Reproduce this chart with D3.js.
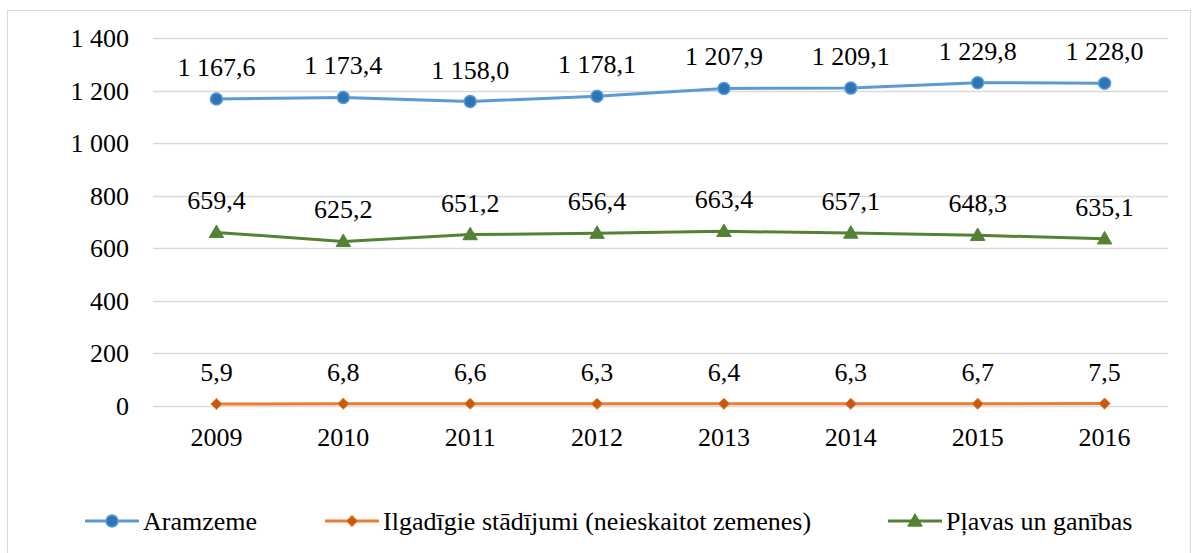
<!DOCTYPE html>
<html>
<head>
<meta charset="utf-8">
<script src="https://cdn.jsdelivr.net/npm/d3@7"></script>
</head>
<body style="margin:0;background:#fff;">
<script>
var years = ["2009","2010","2011","2012","2013","2014","2015","2016"];
var aramzeme = [1167.6,1173.4,1158.0,1178.1,1207.9,1209.1,1229.8,1228.0];
var ilgadigie = [5.9,6.8,6.6,6.3,6.4,6.3,6.7,7.5];
var plavas = [659.4,625.2,651.2,656.4,663.4,657.1,648.3,635.1];
var yTicks = [0,200,400,600,800,1000,1200,1400];

var series = [
  {name:"Aramzeme", values:aramzeme, line:"#5B9BD5", fill:"#2E75B6", marker:"circle"},
  {name:"Ilgadīgie stādījumi (neieskaitot zemenes)", values:ilgadigie, line:"#ED7D31", fill:"#C55A11", marker:"diamond"},
  {name:"Pļavas un ganības", values:plavas, line:"#548235", fill:"#548235", marker:"triangle"}
];

var fmt = function(v){
  var parts = v.toFixed(1).split(".");
  parts[0] = parts[0].replace(/\B(?=(\d{3})+(?!\d))/g, " ");
  return parts.join(",");
};
var fmtTick = function(v){ return String(v).replace(/\B(?=(\d{3})+(?!\d))/g, " "); };

var FONT = "Liberation Serif";
var FS = 26;

var svg = d3.select("body").append("svg")
  .attr("width",1193).attr("height",553)
  .attr("font-family",FONT)
  .attr("font-size",FS);

svg.append("rect")
  .attr("x",7.5).attr("y",10.5).attr("width",1183).attr("height",545)
  .attr("fill","#fff").attr("stroke","#d9d9d9");

var x = d3.scalePoint().domain(years).range([153,1168]).padding(0.5);
var y = d3.scaleLinear().domain([0,1400]).range([405.5,38]);

// grid
svg.selectAll("line.grid")
  .data(yTicks)
  .enter().append("line")
    .attr("class","grid")
    .attr("x1",153).attr("x2",1168)
    .attr("y1",function(d){return Math.round(y(d))+0.5;})
    .attr("y2",function(d){return Math.round(y(d))+0.5;})
    .attr("stroke","#d9d9d9").attr("stroke-width",1.5);

// y tick labels
svg.selectAll("text.ytick")
  .data(yTicks)
  .enter().append("text")
    .attr("class","ytick")
    .attr("x",129)
    .attr("y",function(d){return y(d);})
    .attr("dy","0.35em")
    .attr("text-anchor","end")
    .text(function(d){return fmtTick(d);});

// x labels
svg.selectAll("text.xtick")
  .data(years)
  .enter().append("text")
    .attr("class","xtick")
    .attr("x",function(d){return x(d);})
    .attr("y",446)
    .attr("text-anchor","middle")
    .text(function(d){return d;});

var line = d3.line()
  .x(function(d,i){return x(years[i]);})
  .y(function(d){return y(d);});

function drawMarker(g, type, fill, stroke, cx, cy){
  if (type === "circle") {
    g.append("circle").attr("cx",cx).attr("cy",cy).attr("r",6)
      .attr("fill",fill).attr("stroke",stroke).attr("stroke-width",1.5);
  } else if (type === "diamond") {
    g.append("path").attr("d", d3.symbol().type(d3.symbolDiamond2).size(80)())
      .attr("transform","translate("+cx+","+cy+")")
      .attr("fill",fill).attr("stroke",stroke).attr("stroke-width",1);
  } else {
    g.append("path").attr("d", d3.symbol().type(d3.symbolTriangle).size(90)())
      .attr("transform","translate("+cx+","+(cy+1)+")")
      .attr("fill",fill).attr("stroke",stroke).attr("stroke-width",1);
  }
}

series.forEach(function(s){
  svg.append("path")
    .datum(s.values)
    .attr("d",line)
    .attr("fill","none")
    .attr("stroke",s.line)
    .attr("stroke-width",3)
    .attr("stroke-linejoin","round");
  var g = svg.append("g");
  s.values.forEach(function(v,i){
    drawMarker(g, s.marker, s.fill, s.line, x(years[i]), y(v));
  });
  svg.selectAll(null)
    .data(s.values)
    .enter().append("text")
      .attr("x",function(d,i){return x(years[i]);})
      .attr("y",function(d){return y(d)-23;})
      .attr("text-anchor","middle")
      .text(function(d){return fmt(d);});
});

// legend
var legendX = [85, 325, 888];
series.forEach(function(s,i){
  var lx = legendX[i], ly = 521, w = 54;
  svg.append("line")
    .attr("x1",lx).attr("x2",lx+w)
    .attr("y1",ly).attr("y2",ly)
    .attr("stroke",s.line).attr("stroke-width",3);
  drawMarker(svg, s.marker, s.fill, s.line, lx+w/2, ly);
  svg.append("text")
    .attr("x",lx+w+4)
    .attr("y",ly)
    .attr("dy","0.35em")
    .text(s.name);
});
</script>
</body>
</html>
